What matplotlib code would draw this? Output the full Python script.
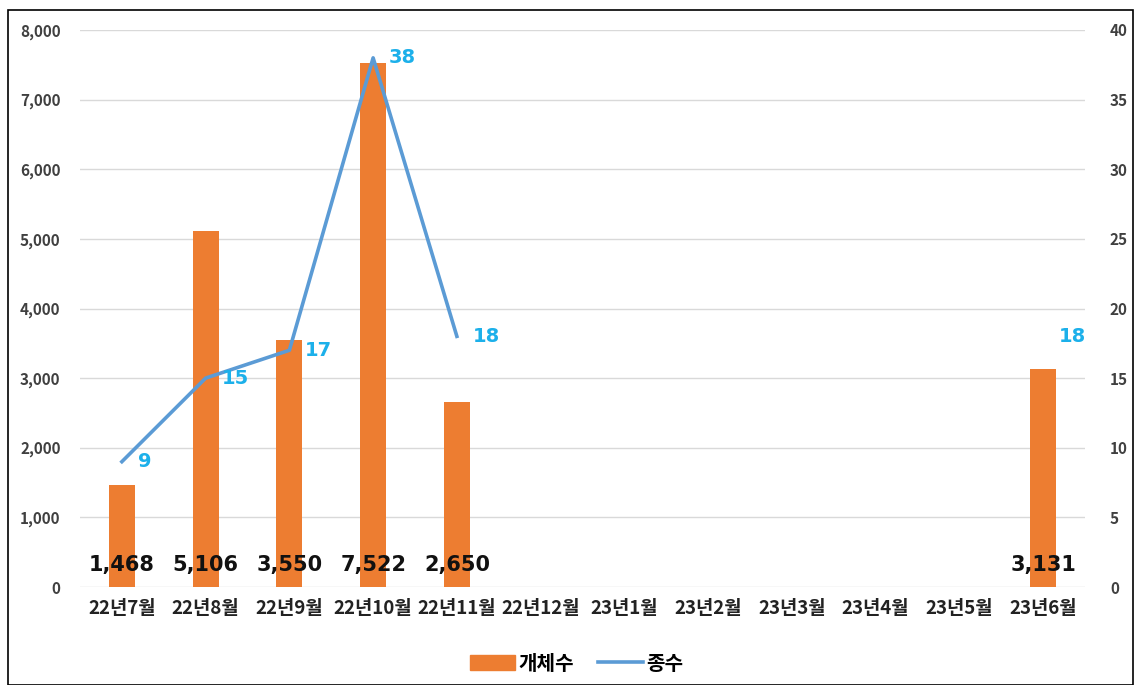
import matplotlib
matplotlib.use("Agg")
import matplotlib.pyplot as plt
import numpy as np
from matplotlib.patches import Rectangle
from matplotlib.lines import Line2D

plt.rcParams['font.family'] = ['Noto Sans CJK KR', 'DejaVu Sans']

categories = ['22년7월', '22년8월', '22년9월', '22년10월', '22년11월', '22년12월',
              '23년1월', '23년2월', '23년3월', '23년4월', '23년5월', '23년6월']
counts = [1468, 5106, 3550, 7522, 2650, None, None, None, None, None, None, 3131]
species = [9, 15, 17, 38, 18, None, None, None, None, None, None, 18]

fig = plt.figure(figsize=(11.35, 6.85), dpi=100)
ax = fig.add_axes([80/1135, 1-587/685, 1005/1135, 557/685])
ax2 = ax.twinx()

x = np.arange(len(categories))
cvals = np.array([np.nan if v is None else v for v in counts], dtype=float)
svals = np.array([np.nan if v is None else v for v in species], dtype=float)

orange = '#ED7D31'
blue = '#5B9BD5'
lblue = '#1CB0EA'

ax.bar(x, np.nan_to_num(cvals), width=0.31, color=orange, zorder=2)
ax.set_xlim(-0.5, len(categories)-0.5)
ax.set_ylim(0, 8000)
ax.set_yticks(np.arange(0, 8001, 1000))
ax.set_yticklabels([f'{int(v):,}' for v in np.arange(0, 8001, 1000)], fontweight='bold')
ax.grid(axis='y', color='#D9D9D9', linewidth=1, zorder=0)
ax.set_axisbelow(True)
for s in ax.spines.values():
    s.set_visible(False)
for s in ax2.spines.values():
    s.set_visible(False)
ax.tick_params(axis='y', length=0, pad=14, labelsize=11, labelcolor='#404040')
ax.tick_params(axis='x', length=0, pad=9, labelsize=13.5)
ax.set_xticks(x)
ax.set_xticklabels(categories, fontweight='bold', color='#222222')

for xi, v in zip(x, cvals):
    if not np.isnan(v):
        ax.text(xi, 320, f'{int(v):,}', ha='center', va='center', fontsize=15,
                fontweight='bold', color='#111111', zorder=4, family='DejaVu Sans')

ax2.plot(x, svals, color=blue, linewidth=2.6, zorder=3)
ax2.set_ylim(0, 40)
ax2.set_yticks(np.arange(0, 41, 5))
ax2.set_yticklabels([str(v) for v in np.arange(0, 41, 5)], fontweight='bold')
ax2.tick_params(axis='y', length=0, pad=18, labelsize=11, labelcolor='#404040')
for xi, v in zip(x, svals):
    if not np.isnan(v):
        ax2.text(xi + 0.19, v, f'{int(v)}', ha='left', va='center', fontsize=14,
                 fontweight='bold', color=lblue, family='DejaVu Sans')

handles = [Rectangle((0, 0), 1, 1, color=orange), Line2D([0], [0], color=blue, linewidth=2.6)]
fig.legend(handles, ['개체수', '종수'], loc='center', bbox_to_anchor=(577/1135, 1-663/685),
           ncol=2, frameon=False, prop={'size': 14.5, 'weight': 'bold'}, handlelength=2.2,
           columnspacing=1.2, handletextpad=0.2)

fig.patches.append(Rectangle((0.007, 0.0), 0.9985-0.007, 0.986, transform=fig.transFigure,
                             fill=False, edgecolor='black', linewidth=1.2))

fig.savefig('out.png', dpi=100)
